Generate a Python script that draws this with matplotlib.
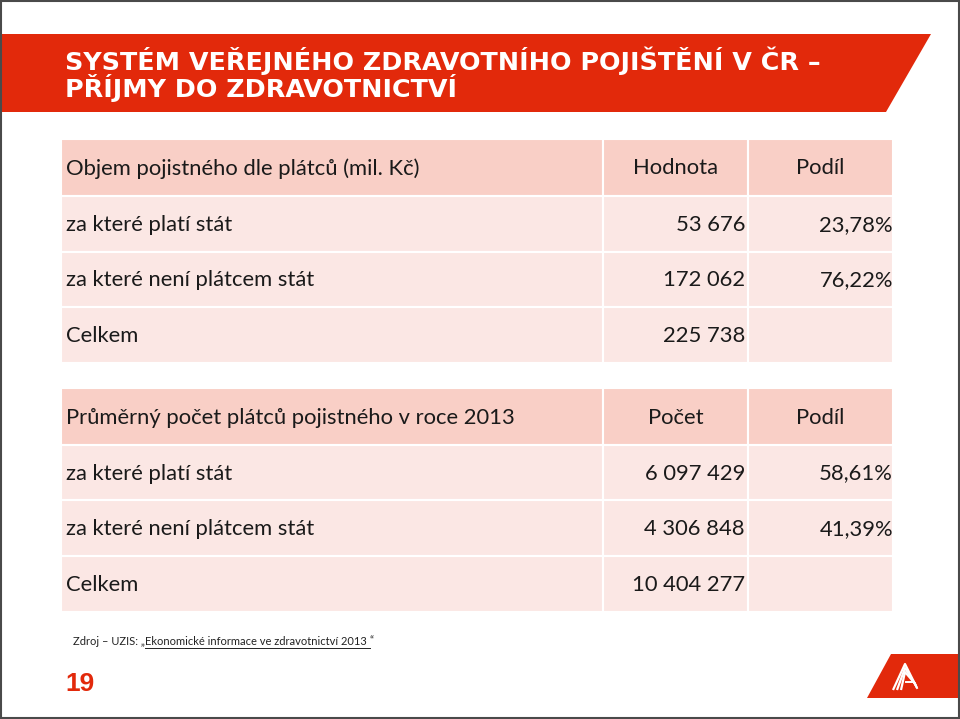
import matplotlib
matplotlib.use("Agg")
import matplotlib.pyplot as plt
from matplotlib.patches import Rectangle, Polygon

# table 1 - objem pojistneho
t1_header = ["Objem pojistného dle plátců (mil. Kč)", "Hodnota", "Podíl"]
t1_labels = ["za které platí stát", "za které není plátcem stát", "Celkem"]
t1_values = ["53 676", "172 062", "225 738"]
t1_shares = ["23,78%", "76,22%", ""]

# table 2 - pocet platcu
t2_header = ["Průměrný počet plátců pojistného v roce 2013", "Počet", "Podíl"]
t2_labels = ["za které platí stát", "za které není plátcem stát", "Celkem"]
t2_values = ["6 097 429", "4 306 848", "10 404 277"]
t2_shares = ["58,61%", "41,39%", ""]

title_lines = ["SYSTÉM VEŘEJNÉHO ZDRAVOTNÍHO POJIŠTĚNÍ V ČR –", "PŘÍJMY DO ZDRAVOTNICTVÍ"]
source_plain = "Zdroj – UZIS: „"
source_link = "Ekonomické informace ve zdravotnictví 2013 "
source_end = "“"
page_no = "19"

RED = "#E2290B"
HEAD = "#F9CFC6"
BODY = "#FBE7E4"
FONT = "Lato"
FS = 15.8

fig = plt.figure(figsize=(9.6, 7.19), dpi=100)
ax = fig.add_axes([0, 0, 1, 1])
ax.set_xlim(0, 960)
ax.set_ylim(719, 0)
ax.axis("off")

# title banner
ax.add_patch(Polygon([(1, 34), (931, 34), (886, 112), (1, 112)], closed=True,
                     facecolor=RED, edgecolor="none"))
for i, line in enumerate(title_lines):
    ax.text(65, 61 + i * 27, line, color="white", fontsize=18.3, fontweight="bold",
            family="DejaVu Sans", va="center", ha="left")

cols = [61, 603, 748, 893]


def draw_table(row_edges, header, labels, values, shares):
    rows = [header] + [[l, v, s] for l, v, s in zip(labels, values, shares)]
    for r, row in enumerate(rows):
        y0, y1 = row_edges[r], row_edges[r + 1]
        color = HEAD if r == 0 else BODY
        for c in range(3):
            ax.add_patch(Rectangle((cols[c], y0), cols[c + 1] - cols[c], y1 - y0,
                                   facecolor=color, edgecolor="white", linewidth=1.5))
        yc = (y0 + y1) / 2 + 1
        ax.text(cols[0] + 5, yc, row[0], fontsize=FS, family=FONT, color="#1a1a1a",
                va="center", ha="left")
        if r == 0:
            ax.text((cols[1] + cols[2]) / 2, yc, row[1], fontsize=FS, family=FONT,
                    color="#1a1a1a", va="center", ha="center")
            ax.text((cols[2] + cols[3]) / 2, yc, row[2], fontsize=FS, family=FONT,
                    color="#1a1a1a", va="center", ha="center")
        else:
            ax.text(cols[2] - 3, yc, row[1], fontsize=FS, family=FONT, color="#1a1a1a",
                    va="center", ha="right")
            ax.text(cols[3], yc, row[2], fontsize=FS, family=FONT, color="#1a1a1a",
                    va="center", ha="right")


draw_table([139, 196, 252, 307, 363], t1_header, t1_labels, t1_values, t1_shares)
draw_table([388, 445, 500, 556, 612], t2_header, t2_labels, t2_values, t2_shares)

# source line with underlined title
renderer = fig.canvas.get_renderer()
inv = ax.transData.inverted()
t_a = ax.text(73, 645, source_plain, fontsize=8, family=FONT, color="#222222",
              va="baseline", ha="left")
x_link = inv.transform((t_a.get_window_extent(renderer).x1, 0))[0]
t_b = ax.text(x_link, 645, source_link, fontsize=8, family=FONT, color="#222222",
              va="baseline", ha="left")
x_end = inv.transform((t_b.get_window_extent(renderer).x1, 0))[0]
ax.plot([x_link, x_end], [647.5, 647.5], color="#222222", linewidth=0.7)
ax.text(x_end, 645, source_end, fontsize=8, family=FONT, color="#222222",
        va="baseline", ha="left")

# page number
ax.text(65, 684, page_no, fontsize=19, fontweight="bold", family="Liberation Sans",
        color=RED, va="center", ha="left")

# logo
ax.add_patch(Polygon([(891, 654), (958, 654), (958, 698), (867, 698)], closed=True,
                     facecolor=RED, edgecolor="none"))
for w in [0, 4, 8]:
    ax.plot([893 + w, 905, 917 - w * 0.2],
            [690, 664 + w, 688 - w * 0.5],
            color="white", linewidth=1.6, solid_capstyle="butt")
ax.plot([906, 914, 917], [682, 682, 688], color="white", linewidth=1.4)

# frame
ax.add_patch(Rectangle((0.5, 0.5), 958.5, 717.5, facecolor="none",
                       edgecolor="#4a4a4a", linewidth=1.5))

fig.savefig("out.png", dpi=100)
